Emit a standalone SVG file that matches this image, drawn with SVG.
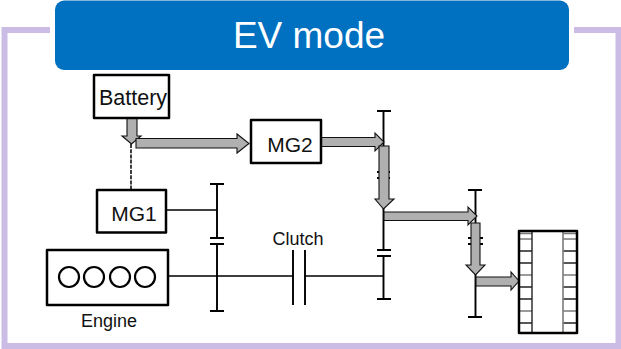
<svg xmlns="http://www.w3.org/2000/svg" width="621" height="349" viewBox="0 0 621 349">
<style>
text{font-family:"Liberation Sans",Arial,sans-serif;fill:#111}
.box{fill:#fff;stroke:#000;stroke-width:2.5;stroke-linejoin:round}
.s{fill:none;stroke:#000;stroke-width:1.9}
.c{fill:none;stroke:#000;stroke-width:2.200}
.th{fill:none;stroke:#000;stroke-width:1.500}
.arrow{fill:#b0b0b0;stroke:#111;stroke-width:1.1;stroke-linejoin:miter}
.g{stroke:#7a7a7a;stroke-width:1.6}
.k{stroke:#222;stroke-width:1.4}
</style>
<rect width="621" height="349" fill="#fff"/>
<g id="frame">
<path d="M50 30H4.500V346H618.500V30H574" fill="none" stroke="#cbbce6" stroke-width="6"/>
</g>
<g id="title">
<rect x="55" y="0.500" width="514" height="69.500" rx="9" fill="#0070c0"/>
<text x="309" y="48" font-size="37" text-anchor="middle" style="fill:#fff">EV mode</text>
</g>
<g id="connectors">
<path class="th" stroke-dasharray="4 1.200" d="M131 144V190"/>
<path class="s" d="M217 184V238M210 184H224M210 238H224M210 244H224M217 244V311M210 311H224"/>
<path class="th" d="M166 210H217M168 276H293M305 276H383"/>
<path class="s" d="M293 250V305M305 250V305"/>
<path class="s" d="M383.500 111V172M377 111H391M377 172H390M377 178H390M383.500 178V250M377 250H391M377 256H391M383.500 256V299M377 299H391"/>
<path class="s" d="M475.500 190V238M468 190H482M468 238H483M468 244H483M475.500 244V317M468 317H482"/>
</g>
<g id="power-flow">
<path class="arrow" d="M127 118H137V136H141L131.500 144L122 136H127Z"/>
<path class="arrow" d="M136 138.500H237V134L249 143.500L237 153V148H136Z"/>
<path class="arrow" d="M321 137.500H375V133L384 142L375 151V146.500H321Z"/>
<path class="arrow" d="M379 146H389V199H394L383.500 209L375 199H379Z"/>
<path class="arrow" d="M384 212H468V207L477 216L468 225V220.500H384Z"/>
<path class="arrow" d="M471 223H480V265H485L475.500 275L466 265H471Z"/>
<path class="arrow" d="M476 277H511V272L519 281L511 290V286H476Z"/>
</g>
<g id="battery">
<rect class="box" x="94" y="75" width="75" height="43"/>
<text x="133" y="105" font-size="21.500" text-anchor="middle">Battery</text>
</g>
<g id="mg2">
<rect class="box" x="251" y="120" width="70" height="43"/>
<text x="290" y="152" font-size="21" text-anchor="middle">MG2</text>
</g>
<g id="mg1">
<rect class="box" x="97" y="190" width="69" height="42.500"/>
<text x="134" y="221" font-size="21" text-anchor="middle">MG1</text>
</g>
<g id="engine">
<rect class="box" x="47" y="250" width="121" height="55"/>
<circle class="c" cx="69" cy="277" r="10"/>
<circle class="c" cx="94" cy="277" r="10"/>
<circle class="c" cx="120" cy="277" r="10"/>
<circle class="c" cx="145" cy="277" r="10"/>
<text x="109" y="327" font-size="18" text-anchor="middle">Engine</text>
</g>
<g id="clutch-label">
<text x="298" y="245" font-size="18" text-anchor="middle">Clutch</text>
</g>
<g id="wheels">
<path class="g" d="M520 233.500H532M563 233.500H576M520 239H532M563 239H576M520 275H532M563 275H576M520 311H532M563 311H576"/>
<path class="k" d="M520 251H532M563 251H576M520 263H532M563 263H576M520 287H532M563 287H576M520 299H532M563 299H576M520 323H532M563 323H576"/>
<path class="g" d="M563 231V333"/>
<path class="k" d="M532 231V333"/>
<rect x="519" y="231" width="58" height="102" fill="none" stroke="#000" stroke-width="2.500" stroke-linejoin="round"/>
</g>
</svg>
